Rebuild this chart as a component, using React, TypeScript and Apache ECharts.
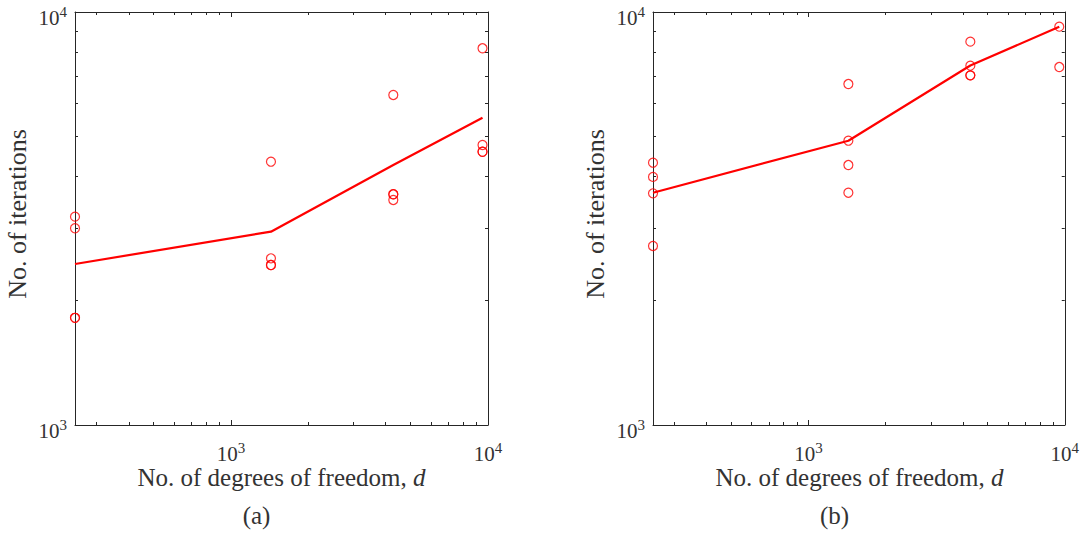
import React, { useEffect, useRef } from "react";
import * as echarts from "echarts";

// ---------- data ----------
const dofs = [247, 1430, 4280, 9520];
const samplesA = [
  [3195, 2995, 1818, 1818],
  [4340, 2533, 2440, 2440],
  [6296, 3620, 3620, 3506],
  [8169, 4764, 4588, 4588],
];
const meanA = [2454, 2938, 4261, 5548];
const samplesB = [
  [4316, 3987, 3639, 2713],
  [6693, 4879, 4261, 3651],
  [8475, 7413, 7025, 7025],
  [9213, 7359],
];
const meanB = [3650, 4879, 7420, 9213];

const xRange = [247, 10000];
const yRange = [1000, 10000];
const xMajorTicks = [1000, 10000];
const xMinorTicks = [300, 400, 500, 600, 700, 800, 900, 2000, 3000, 4000, 5000, 6000, 7000, 8000, 9000];
const yMajorTicks = [1000, 10000];
const yMinorTicks = [2000, 3000, 4000, 5000, 6000, 7000, 8000, 9000];
const xTickLabels = [1000, 10000];
const yTickLabels = [1000, 10000];
const panelLabels = ["(a)", "(b)"];
const xTitleText = "No. of degrees of freedom, ";
const xTitleVar = "d";
const yTitleText = "No. of iterations";

// ---------- style ----------
const FONT = "Liberation Serif";
const INK = "#262626";
const TEXT = "#333333";
const RED = "#ff0000";
const grids = [
  { left: 75, top: 12, width: 413, height: 413 },
  { left: 653, top: 12, width: 413, height: 413 },
];

const powRich = {
  b: { fontSize: 21, fontFamily: FONT, color: TEXT, verticalAlign: "bottom", lineHeight: 21 },
  s: { fontSize: 15, fontFamily: FONT, color: TEXT, verticalAlign: "bottom", lineHeight: 15, padding: [0, 0, 9, 0] },
};
const powFormatter = (v: number) => `{b|10}{s|${Math.round(Math.log10(v))}}`;

function makeX(g: number, position: "bottom" | "top", major: boolean, labels: boolean) {
  return {
    type: "log",
    logBase: 10,
    gridIndex: g,
    position,
    min: xRange[0],
    max: xRange[1],
    axisLine: { show: major, onZero: false, lineStyle: { color: INK, width: 1 } },
    axisTick: {
      show: true,
      inside: true,
      length: major ? 5 : 3,
      customValues: major ? xMajorTicks : xMinorTicks,
      lineStyle: { color: INK, width: 1 },
    },
    minorTick: { show: false },
    splitLine: { show: false },
    axisLabel: labels
      ? { show: true, customValues: xTickLabels, formatter: powFormatter, rich: powRich, margin: 18, color: TEXT, fontFamily: FONT }
      : { show: false },
  };
}

function makeY(g: number, position: "left" | "right", major: boolean, labels: boolean) {
  return {
    type: "log",
    logBase: 10,
    gridIndex: g,
    position,
    min: yRange[0],
    max: yRange[1],
    axisLine: { show: major, onZero: false, lineStyle: { color: INK, width: 1 } },
    axisTick: {
      show: true,
      inside: true,
      length: major ? 5 : 3,
      customValues: major ? yMajorTicks : yMinorTicks,
      lineStyle: { color: INK, width: 1 },
    },
    minorTick: { show: false },
    splitLine: { show: false },
    axisLabel: labels
      ? { show: true, customValues: yTickLabels, formatter: powFormatter, rich: powRich, margin: 8, padding: [12, 0, 0, 0], color: TEXT, fontFamily: FONT }
      : { show: false },
  };
}

export default function App() {
  const ref = useRef<HTMLDivElement>(null);
  useEffect(() => {
    if (!ref.current) return;
    const chart = echarts.init(ref.current, undefined, { renderer: "svg" });
    const xAxes: any[] = [];
    const yAxes: any[] = [];
    grids.forEach((_, g) => {
      xAxes.push(makeX(g, "bottom", true, true));
      xAxes.push(makeX(g, "bottom", false, false));
      xAxes.push(makeX(g, "top", true, false));
      xAxes.push(makeX(g, "top", false, false));
      yAxes.push(makeY(g, "left", true, true));
      yAxes.push(makeY(g, "left", false, false));
      yAxes.push(makeY(g, "right", true, false));
      yAxes.push(makeY(g, "right", false, false));
    });

    const panels = [
      { samples: samplesA, mean: meanA },
      { samples: samplesB, mean: meanB },
    ];
    const series: any[] = [];
    panels.forEach((p, g) => {
      series.push({
        type: "line",
        xAxisIndex: g * 4,
        yAxisIndex: g * 4,
        data: dofs.map((d, i) => [d, p.mean[i]]),
        symbol: "none",
        lineStyle: { color: RED, width: 2.2 },
        clip: false,
        z: 3,
      });
      const pts: number[][] = [];
      p.samples.forEach((arr, i) => arr.forEach((v) => pts.push([dofs[i], v])));
      series.push({
        type: "scatter",
        xAxisIndex: g * 4,
        yAxisIndex: g * 4,
        data: pts,
        symbol: "circle",
        symbolSize: 9,
        itemStyle: { color: "rgba(0,0,0,0)", borderColor: RED, borderWidth: 1.2 },
        clip: false,
        z: 4,
      });
    });

    const graphic: any[] = [];
    grids.forEach((gr, g) => {
      const cx = gr.left + gr.width / 2;
      graphic.push({
        type: "text",
        x: cx,
        y: 477,
        style: {
          text: `{r|${xTitleText}}{i|${xTitleVar}}`,
          align: "center",
          verticalAlign: "middle",
          font: `25px ${FONT}`,
          rich: {
            r: { fontSize: 25, fontFamily: FONT, fill: TEXT },
            i: { fontSize: 25, fontFamily: FONT, fontStyle: "italic", fill: TEXT },
          },
        },
      });
      graphic.push({
        type: "text",
        x: gr.left - 58,
        y: 214,
        rotation: Math.PI / 2,
        style: {
          text: yTitleText,
          font: `26px ${FONT}`,
          fill: TEXT,
          align: "center",
          verticalAlign: "middle",
        },
      });
      graphic.push({
        type: "text",
        x: cx - 25,
        y: 515,
        style: {
          text: panelLabels[g],
          font: `25px ${FONT}`,
          fill: TEXT,
          align: "center",
          verticalAlign: "middle",
        },
      });
    });

    chart.setOption({
      animation: false,
      backgroundColor: "#ffffff",
      textStyle: { fontFamily: FONT },
      grid: grids.map((gr) => ({ ...gr, containLabel: false })),
      xAxis: xAxes,
      yAxis: yAxes,
      series,
      graphic,
    });
    return () => chart.dispose();
  }, []);
  return (
    <div
      ref={ref}
      style={{ position: "fixed", left: 0, top: 0, width: 1082, height: 535, background: "#fff" }}
    />
  );
}
